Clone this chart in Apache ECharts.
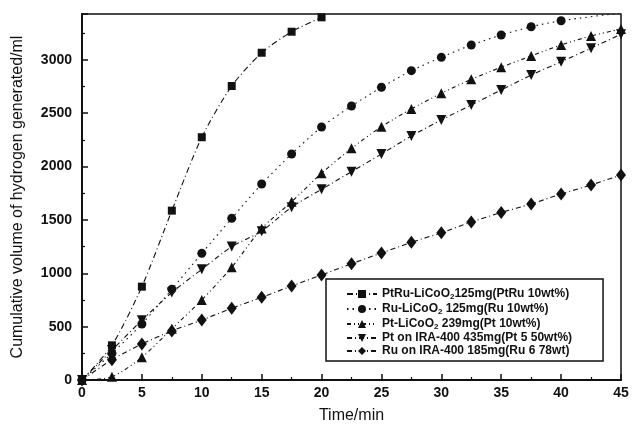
<!DOCTYPE html>
<html>
<head>
<meta charset="utf-8">
<script src="https://cdn.jsdelivr.net/npm/echarts@6/dist/echarts.min.js"></script>
<style>
	html, body { margin: 0; padding: 0; background: #fff; }
	#chart1 { width: 632px; height: 433px; }
</style>
</head>
<body>
<div id="chart1"></div>
<script>
// sampling times (min)
const times = [0, 2.5, 5, 7.5, 10, 12.5, 15, 17.5, 20, 22.5, 25, 27.5, 30, 32.5, 35, 37.5, 40, 42.5, 45];

// cumulative H2 volume (ml), one array per catalyst
const ptRuLiCoO2 = [0, 325, 875, 1587, 2275, 2755, 3067, 3264, 3399];
const ruLiCoO2 = [0, 250, 525, 850, 1187, 1515, 1837, 2118, 2371, 2568, 2743, 2899, 3024, 3140, 3233, 3311, 3367, null, 3440];
const ptLiCoO2 = [0, 30, 213, 480, 750, 1056, 1420, 1670, 1937, 2171, 2374, 2540, 2687, 2818, 2931, 3037, 3140, 3224, 3290];
const ptIRA = [0, 280, 560, 820, 1037, 1250, 1395, 1620, 1787, 1952, 2118, 2287, 2437, 2577, 2718, 2858, 2983, 3109, 3240];
const ruIRA = [0, 190, 337, 460, 562, 672, 775, 881, 984, 1090, 1190, 1290, 1380, 1480, 1570, 1650, 1743, 1828, 1921];

const seriesNames = [
	'PtRu-LiCoO2 125mg(PtRu 10wt%)',
	'Ru-LiCoO2 125mg(Ru 10wt%)',
	'Pt-LiCoO2 239mg(Pt 10wt%)',
	'Pt on IRA-400 435mg(Pt 5 50wt%)',
	'Ru on IRA-400 185mg(Ru 6 78wt)'
];

const ink = '#111';
const fontFamily = '"Liberation Sans", Arial, sans-serif';

const toPairs = (vals) => vals.map((v, i) => [times[i], v]);

// legend labels with the subscript 2 of LiCoO2
const legendLabel = (name) => {
	const idx = name.indexOf('LiCoO2');
	if (idx < 0) return '{a|' + name + '}';
	const head = name.slice(0, idx + 5);
	let tail = name.slice(idx + 6);
	if (idx === 5) tail = tail.trim();
	return '{a|' + head + '}{s|2}{a|' + tail + '}';
};

const makeSeries = (name, vals, symbol, size, dash, extra) => {
	return Object.assign({
		name: name,
		type: 'line',
		data: toPairs(vals),
		symbol: symbol,
		symbolSize: size,
		smooth: 0.25,
		connectNulls: true,
		itemStyle: { color: ink },
		lineStyle: { color: ink, width: 1.1, type: dash }
	}, extra || {});
};

const getOptionChart1 = () => {
	return {
		animation: false,
		backgroundColor: '#fff',
		textStyle: { fontFamily: fontFamily, color: ink },
		grid: {
			left: 82, right: 11, top: 14, bottom: 53,
			show: true,
			borderColor: ink,
			borderWidth: 1.5
		},
		legend: {
			orient: 'vertical',
			left: 326,
			top: 279,
			padding: [8, 31, 4, 20],
			itemGap: 1,
			itemWidth: 30,
			itemHeight: 10,
			borderColor: ink,
			borderWidth: 1.5,
			formatter: legendLabel,
			textStyle: {
				color: ink,
				rich: {
					a: { fontSize: 12, fontWeight: 'bold', fontFamily: fontFamily, color: ink, lineHeight: 14 },
					s: { fontSize: 8, fontWeight: 'bold', fontFamily: fontFamily, color: ink, lineHeight: 14, padding: [6, 0, 0, 0] }
				}
			},
			data: seriesNames
		},
		xAxis: {
			type: 'value',
			min: 0,
			max: 45,
			interval: 5,
			name: 'Time/min',
			nameLocation: 'middle',
			nameGap: 28,
			nameTextStyle: { fontSize: 16, color: ink, fontFamily: fontFamily },
			axisLine: { lineStyle: { color: ink, width: 2 } },
			axisTick: { inside: true, length: 6, lineStyle: { color: ink, width: 1.5 } },
			minorTick: { show: true, splitNumber: 2, length: 3, lineStyle: { color: ink, width: 1.2 } },
			axisLabel: { margin: 6, fontSize: 14, fontWeight: 'bold', color: ink, fontFamily: fontFamily },
			splitLine: { show: false }
		},
		yAxis: {
			type: 'value',
			min: 0,
			max: 3430,
			interval: 500,
			name: 'Cumulative volume of hydrogen generated/ml',
			nameLocation: 'middle',
			nameGap: 56,
			nameTextStyle: { fontSize: 16, color: ink, fontFamily: fontFamily },
			axisLine: { lineStyle: { color: ink, width: 2 } },
			axisTick: { inside: true, length: 6, lineStyle: { color: ink, width: 1.5 } },
			minorTick: { show: true, splitNumber: 2, length: 3, lineStyle: { color: ink, width: 1.2 } },
			axisLabel: {
				margin: 10, fontSize: 14, fontWeight: 'bold', color: ink, fontFamily: fontFamily,
				formatter: (v) => (v % 500 === 0 ? String(v) : '')
			},
			splitLine: { show: false }
		},
		series: [
			makeSeries(seriesNames[0], ptRuLiCoO2, 'rect', 8, [6, 3, 1, 3]),
			makeSeries(seriesNames[1], ruLiCoO2, 'circle', 9, [1.5, 4]),
			makeSeries(seriesNames[2], ptLiCoO2, 'triangle', 10, [4, 3, 1, 3, 1, 3]),
			makeSeries(seriesNames[3], ptIRA, 'triangle', 10, [5, 3, 1, 3], { symbolRotate: 180 }),
			makeSeries(seriesNames[4], ruIRA, 'diamond', [10, 13], [5, 3, 1, 3])
		]
	};
};

const initCharts = () => {
	const chart1 = echarts.init(document.getElementById('chart1'));
	chart1.setOption(getOptionChart1());
};

initCharts();
</script>
</body>
</html>
